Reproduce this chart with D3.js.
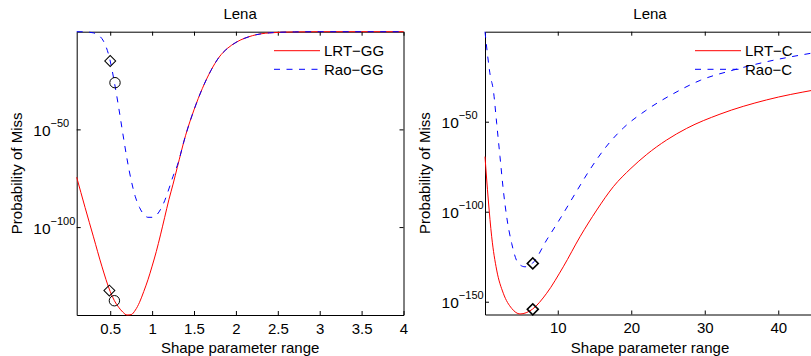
<!DOCTYPE html>
<html>
<head>
<meta charset="utf-8">
<script src="https://cdn.jsdelivr.net/npm/d3@7"></script>
<style>
  body { margin: 0; background: #fff; }
  svg text { font-family: "Liberation Sans", Arial, Helvetica, sans-serif; fill: #000; }
</style>
</head>
<body>
<svg id="fig" width="811" height="356"></svg>
<script>
// all series are log10(probability of miss)

// left panel : generalized gaussian
var xGG = [0.1, 0.2, 0.3, 0.4, 0.5, 0.55, 0.6, 0.65, 0.7, 0.75, 0.8, 0.85, 0.9, 0.95, 1.0, 1.05, 1.1, 1.15, 1.2, 1.25, 1.3, 1.4, 1.5, 1.6, 1.7, 1.8, 1.9, 2.0, 2.2, 2.4, 2.7, 3.0, 3.5, 4.0];
var lrtGG = [-74.5, -90, -105, -120, -133, -137.7, -141, -143.5, -145, -144.8, -142.5, -138.5, -133, -127, -120, -112.5, -104, -95, -86, -78, -69.5, -53, -40, -29, -20, -13, -8.5, -5.5, -2, -0.6, -0.1, 0, 0, 0];
var raoGG = [0, -0.1, -0.6, -3.5, -15, -26, -38.5, -52, -65, -76, -84.5, -90, -93.5, -95, -95, -94, -91, -86.5, -80.5, -74, -68.5, -53, -40, -29, -20, -13, -8.5, -5.5, -2, -0.6, -0.1, 0, 0, 0];
var diamondGG = [[0.49, -132.5], [0.50, -15.0]];
var circleGG = [[0.55, -137.7], [0.557, -26.1]];
var xTicksGG = [0.5, 1, 1.5, 2, 2.5, 3, 3.5, 4];
var yTicksGG = [-50, -100];

// right panel : cauchy
var xLrtC = [0.1, 0.55, 1.01, 1.69, 2.59, 3.73, 4.86, 6.54, 8.49, 10.75, 13.03, 15.3, 17.56, 19.96, 22.1, 24.8, 27.54, 32.07, 38.4, 45];
var lrtC = [-69.4, -93.5, -113.9, -132.4, -145.3, -153.7, -156.8, -154.2, -145.3, -130.6, -113.9, -99.1, -86.1, -75.9, -68.2, -60.2, -53.7, -45.8, -37.9, -32.3];
var xRaoC = [0.1, 0.45, 0.8, 1.23, 1.69, 2.14, 2.59, 3.05, 3.73, 4.63, 5.54, 6.54, 8.49, 10.3, 12.58, 14.39, 16.66, 18.92, 21.9, 25.7, 29.4, 33.9, 38.4, 45];
var raoC = [0, -13, -24, -32.4, -50.9, -69.4, -87.9, -102.8, -117.6, -128.7, -130.6, -128.7, -115.7, -104, -88.5, -76.5, -63.5, -53.5, -44, -34.5, -27, -21.3, -16.7, -11.6];
var diamondC = [[6.6, -154.2], [6.6, -128.7]];
var circleC = [];
var xTicksC = [10, 20, 30, 40];
var yTicksC = [-50, -100, -150];

var svg = d3.select("#fig");

function pow10(e) { return Math.pow(10, e); }

function drawPanel(p) {
  var x = d3.scaleLinear().domain(p.xDomain).range([p.left, p.right]);
  var y = d3.scaleLog().domain([pow10(p.yMin), 1]).range([p.bottom, p.top]);
  var g = svg.append("g");

  g.append("g")
    .attr("transform", "translate(0," + p.bottom + ")")
    .call(d3.axisBottom(x).tickValues(p.xTicks).tickSize(-4).tickSizeOuter(0).tickPadding(8).tickFormat(d3.format("")))
    .call(function(a) { a.selectAll("text").attr("font-size", "15px").attr("font-family", null); });
  g.append("g")
    .attr("transform", "translate(0," + p.top + ")")
    .call(d3.axisTop(x).tickValues(p.xTicks).tickSize(-4).tickSizeOuter(0).tickFormat(""));
  g.append("g")
    .attr("transform", "translate(" + p.left + ",0)")
    .call(d3.axisLeft(y).tickValues(p.yTicks.map(pow10)).tickSize(-4).tickSizeOuter(0).tickFormat(""));
  g.append("g")
    .attr("transform", "translate(" + p.right + ",0)")
    .call(d3.axisRight(y).tickValues(p.yTicks.map(pow10)).tickSize(-4).tickSizeOuter(0).tickFormat(""));

  // 10^-n labels
  p.yTicks.forEach(function(t) {
    var lab = g.append("text")
      .attr("x", p.left - 43.4)
      .attr("y", y(pow10(t)) + 6.5)
      .attr("font-size", "15.5px");
    lab.append("tspan").text("10");
    lab.append("tspan").attr("font-size", "11px").attr("dy", -9).text("\u2212" + Math.abs(t));
  });

  g.append("text")
    .attr("x", (p.left + p.right) / 2)
    .attr("y", 19)
    .attr("text-anchor", "middle")
    .attr("font-size", "15px")
    .text(p.title);

  g.append("text")
    .attr("x", (p.left + p.right) / 2)
    .attr("y", 352.5)
    .attr("text-anchor", "middle")
    .attr("font-size", "15px")
    .text("Shape parameter range");

  g.append("text")
    .attr("transform", "translate(" + (p.left - 54.7) + "," + ((p.top + p.bottom) / 2) + ") rotate(-90)")
    .attr("text-anchor", "middle")
    .attr("font-size", "15px")
    .text("Probability of Miss");

  var line = d3.line()
    .x(function(d) { return x(d[0]); })
    .y(function(d) { return y(pow10(d[1])); })
    .curve(d3.curveMonotoneX);

  g.append("path")
    .attr("d", line(d3.zip(p.xLrt, p.lrt)))
    .attr("fill", "none")
    .attr("stroke", "#ff0000")
    .attr("stroke-width", 1);

  g.append("path")
    .attr("d", line(d3.zip(p.xRao, p.rao)))
    .attr("fill", "none")
    .attr("stroke", "#0000ff")
    .attr("stroke-width", 1)
    .attr("stroke-dasharray", "6,6.5");

  g.selectAll(".dia")
    .data(p.diamonds)
    .enter()
    .append("path")
    .attr("d", d3.symbol(d3.symbolSquare, 60)())
    .attr("transform", function(d) { return "translate(" + x(d[0]) + "," + y(pow10(d[1])) + ") rotate(45)"; })
    .attr("fill", "none")
    .attr("stroke", "#000")
    .attr("stroke-width", p.markW);

  g.selectAll(".circ")
    .data(p.circles)
    .enter()
    .append("circle")
    .attr("cx", function(d) { return x(d[0]); })
    .attr("cy", function(d) { return y(pow10(d[1])); })
    .attr("r", 5.2)
    .attr("fill", "none")
    .attr("stroke", "#000")
    .attr("stroke-width", p.markW);

  // legend, no box
  var lx = p.legX;
  var leg = g.append("g");
  leg.append("line").attr("x1", lx).attr("x2", lx + 46).attr("y1", 50.7).attr("y2", 50.7)
    .attr("stroke", "#ff0000").attr("stroke-width", 1);
  leg.append("line").attr("x1", lx).attr("x2", lx + 46).attr("y1", 69.3).attr("y2", 69.3)
    .attr("stroke", "#0000ff").attr("stroke-width", 1).attr("stroke-dasharray", "6,6.5");
  leg.append("text").attr("x", lx + 50).attr("y", 56).attr("font-size", "15px").text(p.names[0]);
  leg.append("text").attr("x", lx + 50).attr("y", 74.6).attr("font-size", "15px").text(p.names[1]);
}

drawPanel({
  left: 76.7, right: 403.5, top: 31.7, bottom: 315,
  xDomain: [0.1, 4], yMin: -145,
  xLrt: xGG, lrt: lrtGG, xRao: xGG, rao: raoGG,
  diamonds: diamondGG, circles: circleGG, markW: 1,
  xTicks: xTicksGG, yTicks: yTicksGG,
  title: "Lena", names: ["LRT\u2212GG", "Rao\u2212GG"], legX: 274
});

drawPanel({
  left: 485, right: 815, top: 31.7, bottom: 314.5,
  xDomain: [0.1, 45], yMin: -157.1,
  xLrt: xLrtC, lrt: lrtC, xRao: xRaoC, rao: raoC,
  diamonds: diamondC, circles: circleC, markW: 1.6,
  xTicks: xTicksC, yTicks: yTicksC,
  title: "Lena", names: ["LRT\u2212C", "Rao\u2212C"], legX: 695
});
</script>
</body>
</html>
